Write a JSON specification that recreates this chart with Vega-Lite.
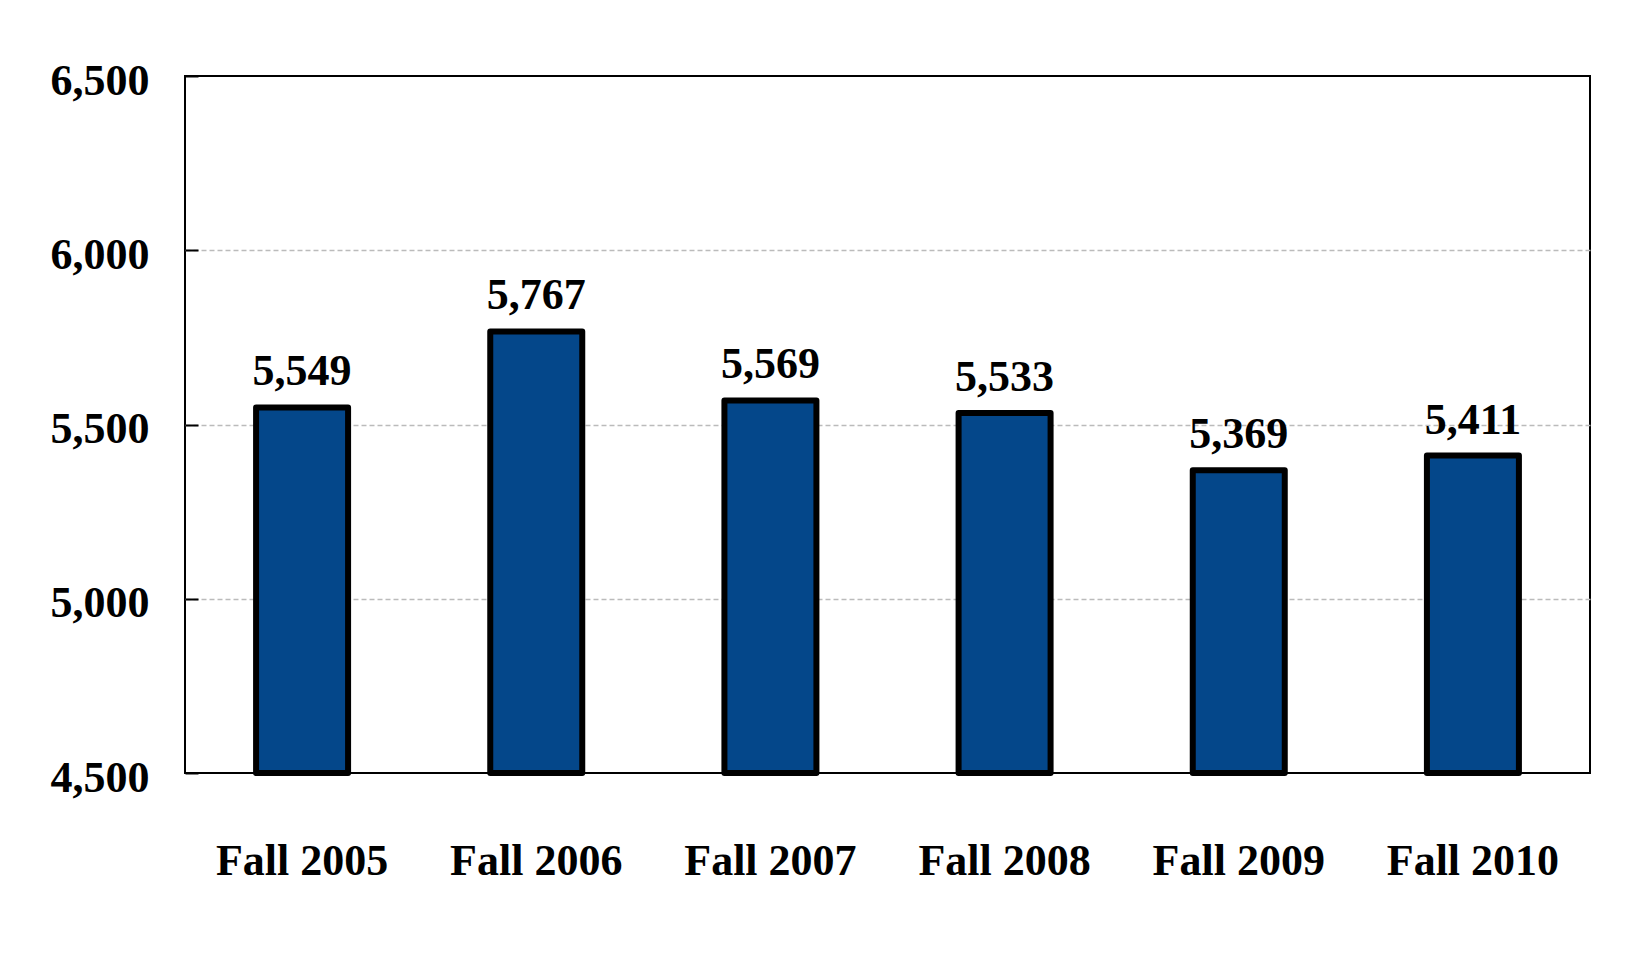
{
  "$schema": "https://vega.github.io/schema/vega-lite/v6.json",
  "autosize": "none",
  "width": 1405,
  "height": 697,
  "padding": {"left": 185, "top": 76, "right": 58, "bottom": 197},
  "background": "white",
  "data": {"values": [
    {"term": "Fall 2005", "students": 5549},
    {"term": "Fall 2006", "students": 5767},
    {"term": "Fall 2007", "students": 5569},
    {"term": "Fall 2008", "students": 5533},
    {"term": "Fall 2009", "students": 5369},
    {"term": "Fall 2010", "students": 5411}
  ]},
  "encoding": {
    "x": {"field": "term", "type": "nominal", "sort": null,
      "axis": {"title": null, "labelAngle": 0, "ticks": false, "domain": false, "labelPadding": 66, "labelBaseline": "top",
        "labelFont": "Liberation Serif", "labelFontWeight": "bold", "labelFontSize": 44, "labelColor": "black"}},
    "y": {"field": "students", "type": "quantitative",
      "scale": {"domain": [4500, 6500], "nice": false, "zero": false},
      "axis": {"title": null, "values": [4500, 5000, 5500, 6000, 6500], "format": ",d",
        "domain": false, "ticks": true, "tickSize": -13, "tickColor": "black", "tickWidth": 2,
        "labelPadding": 49, "labelOffset": 5,
        "grid": true, "gridColor": "#bbbbbb", "gridDash": [5, 3], "gridWidth": 1.5,
        "gridOpacity": {"condition": {"test": "datum.value === 4500 || datum.value === 6500", "value": 0}, "value": 1},
        "labelFont": "Liberation Serif", "labelFontWeight": "bold", "labelFontSize": 44, "labelColor": "black"}}
  },
  "layer": [
    {"mark": {"type": "bar", "size": 92, "fill": "#04478A", "stroke": "black", "strokeWidth": 6, "strokeJoin": "round", "clip": false},
      "encoding": {"y2": {"datum": 4500}}},
    {"mark": {"type": "text", "baseline": "alphabetic", "dy": -22, "font": "Liberation Serif", "fontWeight": "bold", "fontSize": 44, "color": "black"},
      "encoding": {"text": {"field": "students", "type": "quantitative", "format": ",d"}}}
  ],
  "config": {
    "view": {"stroke": "black", "strokeWidth": 2}
  }
}
